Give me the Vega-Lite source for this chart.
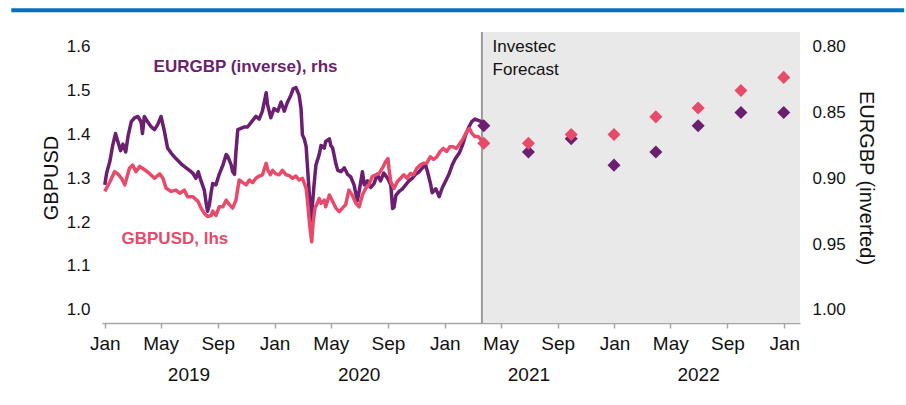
{
"$schema":"https://vega.github.io/schema/vega-lite/v6.json",
"width":698,"height":291,
"autosize":{"type":"none"},
"padding":{"left":102,"top":32,"right":106,"bottom":82},
"background":"white",
"config":{"view":{"stroke":null},"font":"Liberation Sans","axis":{"grid":false},
 "axisX":{"labelFontSize":19,"labelColor":"#111111","labelPadding":6,"labelOverlap":false,"labelFlush":false,
  "domainColor":"#A6A6A6","domainWidth":1.5,"tickColor":"#A6A6A6","tickWidth":1.5,"tickSize":5,"grid":false,"title":null,
  "tickCount":{"interval":"month","step":4},"format":"%b","formatType":"utc"}},
"datasets":{
"hist":[
{"date":"2019-01-01","series":"GBPUSD","value":1.270},{"date":"2019-01-12","series":"GBPUSD","value":1.292},{"date":"2019-01-22","series":"GBPUSD","value":1.315},{"date":"2019-01-29","series":"GBPUSD","value":1.310},{"date":"2019-02-06","series":"GBPUSD","value":1.300},{"date":"2019-02-13","series":"GBPUSD","value":1.285},{"date":"2019-02-23","series":"GBPUSD","value":1.323},{"date":"2019-03-02","series":"GBPUSD","value":1.330},{"date":"2019-03-09","series":"GBPUSD","value":1.315},{"date":"2019-03-17","series":"GBPUSD","value":1.327},{"date":"2019-03-27","series":"GBPUSD","value":1.320},{"date":"2019-04-07","series":"GBPUSD","value":1.311},{"date":"2019-04-18","series":"GBPUSD","value":1.300},{"date":"2019-04-29","series":"GBPUSD","value":1.310},{"date":"2019-05-06","series":"GBPUSD","value":1.300},{"date":"2019-05-13","series":"GBPUSD","value":1.277},{"date":"2019-05-24","series":"GBPUSD","value":1.270},{"date":"2019-06-03","series":"GBPUSD","value":1.273},{"date":"2019-06-11","series":"GBPUSD","value":1.266},{"date":"2019-06-21","series":"GBPUSD","value":1.273},{"date":"2019-06-28","series":"GBPUSD","value":1.258},{"date":"2019-07-09","series":"GBPUSD","value":1.258},{"date":"2019-07-20","series":"GBPUSD","value":1.248},{"date":"2019-07-27","series":"GBPUSD","value":1.232},{"date":"2019-08-03","series":"GBPUSD","value":1.220},{"date":"2019-08-10","series":"GBPUSD","value":1.213},{"date":"2019-08-18","series":"GBPUSD","value":1.215},{"date":"2019-08-21","series":"GBPUSD","value":1.225},{"date":"2019-08-28","series":"GBPUSD","value":1.215},{"date":"2019-09-04","series":"GBPUSD","value":1.235},{"date":"2019-09-12","series":"GBPUSD","value":1.235},{"date":"2019-09-19","series":"GBPUSD","value":1.250},{"date":"2019-09-26","series":"GBPUSD","value":1.240},{"date":"2019-10-03","series":"GBPUSD","value":1.232},{"date":"2019-10-10","series":"GBPUSD","value":1.250},{"date":"2019-10-14","series":"GBPUSD","value":1.277},{"date":"2019-10-17","series":"GBPUSD","value":1.296},{"date":"2019-10-25","series":"GBPUSD","value":1.290},{"date":"2019-11-01","series":"GBPUSD","value":1.285},{"date":"2019-11-08","series":"GBPUSD","value":1.296},{"date":"2019-11-15","series":"GBPUSD","value":1.290},{"date":"2019-11-22","series":"GBPUSD","value":1.300},{"date":"2019-11-29","series":"GBPUSD","value":1.305},{"date":"2019-12-06","series":"GBPUSD","value":1.308},{"date":"2019-12-14","series":"GBPUSD","value":1.334},{"date":"2019-12-17","series":"GBPUSD","value":1.320},{"date":"2019-12-23","series":"GBPUSD","value":1.308},{"date":"2019-12-28","series":"GBPUSD","value":1.318},{"date":"2020-01-04","series":"GBPUSD","value":1.310},{"date":"2020-01-11","series":"GBPUSD","value":1.308},{"date":"2020-01-18","series":"GBPUSD","value":1.318},{"date":"2020-01-26","series":"GBPUSD","value":1.308},{"date":"2020-02-02","series":"GBPUSD","value":1.306},{"date":"2020-02-09","series":"GBPUSD","value":1.300},{"date":"2020-02-16","series":"GBPUSD","value":1.305},{"date":"2020-02-23","series":"GBPUSD","value":1.296},{"date":"2020-03-01","series":"GBPUSD","value":1.300},{"date":"2020-03-05","series":"GBPUSD","value":1.289},{"date":"2020-03-09","series":"GBPUSD","value":1.277},{"date":"2020-03-12","series":"GBPUSD","value":1.247},{"date":"2020-03-16","series":"GBPUSD","value":1.200},{"date":"2020-03-19","series":"GBPUSD","value":1.171},{"date":"2020-03-21","series":"GBPUSD","value":1.155},{"date":"2020-03-24","series":"GBPUSD","value":1.200},{"date":"2020-03-28","series":"GBPUSD","value":1.232},{"date":"2020-04-02","series":"GBPUSD","value":1.243},{"date":"2020-04-06","series":"GBPUSD","value":1.254},{"date":"2020-04-10","series":"GBPUSD","value":1.243},{"date":"2020-04-17","series":"GBPUSD","value":1.250},{"date":"2020-04-20","series":"GBPUSD","value":1.235},{"date":"2020-04-28","series":"GBPUSD","value":1.262},{"date":"2020-05-05","series":"GBPUSD","value":1.247},{"date":"2020-05-12","series":"GBPUSD","value":1.232},{"date":"2020-05-19","series":"GBPUSD","value":1.224},{"date":"2020-05-26","series":"GBPUSD","value":1.232},{"date":"2020-06-02","series":"GBPUSD","value":1.240},{"date":"2020-06-09","series":"GBPUSD","value":1.273},{"date":"2020-06-16","series":"GBPUSD","value":1.262},{"date":"2020-06-24","series":"GBPUSD","value":1.243},{"date":"2020-07-01","series":"GBPUSD","value":1.235},{"date":"2020-07-08","series":"GBPUSD","value":1.262},{"date":"2020-07-15","series":"GBPUSD","value":1.277},{"date":"2020-07-22","series":"GBPUSD","value":1.285},{"date":"2020-07-29","series":"GBPUSD","value":1.304},{"date":"2020-08-06","series":"GBPUSD","value":1.308},{"date":"2020-08-13","series":"GBPUSD","value":1.311},{"date":"2020-08-20","series":"GBPUSD","value":1.323},{"date":"2020-08-27","series":"GBPUSD","value":1.338},{"date":"2020-09-01","series":"GBPUSD","value":1.345},{"date":"2020-09-03","series":"GBPUSD","value":1.323},{"date":"2020-09-07","series":"GBPUSD","value":1.292},{"date":"2020-09-14","series":"GBPUSD","value":1.277},{"date":"2020-09-21","series":"GBPUSD","value":1.292},{"date":"2020-09-28","series":"GBPUSD","value":1.300},{"date":"2020-10-05","series":"GBPUSD","value":1.308},{"date":"2020-10-12","series":"GBPUSD","value":1.300},{"date":"2020-10-19","series":"GBPUSD","value":1.311},{"date":"2020-10-26","series":"GBPUSD","value":1.308},{"date":"2020-11-02","series":"GBPUSD","value":1.323},{"date":"2020-11-09","series":"GBPUSD","value":1.330},{"date":"2020-11-16","series":"GBPUSD","value":1.334},{"date":"2020-11-23","series":"GBPUSD","value":1.334},{"date":"2020-12-01","series":"GBPUSD","value":1.349},{"date":"2020-12-08","series":"GBPUSD","value":1.343},{"date":"2020-12-15","series":"GBPUSD","value":1.349},{"date":"2020-12-22","series":"GBPUSD","value":1.361},{"date":"2020-12-29","series":"GBPUSD","value":1.368},{"date":"2021-01-05","series":"GBPUSD","value":1.361},{"date":"2021-01-12","series":"GBPUSD","value":1.372},{"date":"2021-01-19","series":"GBPUSD","value":1.372},{"date":"2021-01-26","series":"GBPUSD","value":1.368},{"date":"2021-02-03","series":"GBPUSD","value":1.380},{"date":"2021-02-10","series":"GBPUSD","value":1.391},{"date":"2021-02-17","series":"GBPUSD","value":1.406},{"date":"2021-02-23","series":"GBPUSD","value":1.414},{"date":"2021-02-28","series":"GBPUSD","value":1.403},{"date":"2021-03-07","series":"GBPUSD","value":1.395},{"date":"2021-03-14","series":"GBPUSD","value":1.395},{"date":"2021-03-21","series":"GBPUSD","value":1.387},{"date":"2021-03-25","series":"GBPUSD","value":1.380},
{"date":"2019-01-01","series":"EURGBP","value":0.905},{"date":"2019-01-05","series":"EURGBP","value":0.896},{"date":"2019-01-12","series":"EURGBP","value":0.887},{"date":"2019-01-18","series":"EURGBP","value":0.875},{"date":"2019-01-24","series":"EURGBP","value":0.866},{"date":"2019-01-29","series":"EURGBP","value":0.872},{"date":"2019-02-04","series":"EURGBP","value":0.879},{"date":"2019-02-09","series":"EURGBP","value":0.874},{"date":"2019-02-15","series":"EURGBP","value":0.880},{"date":"2019-02-20","series":"EURGBP","value":0.868},{"date":"2019-02-27","series":"EURGBP","value":0.857},{"date":"2019-03-06","series":"EURGBP","value":0.854},{"date":"2019-03-13","series":"EURGBP","value":0.853},{"date":"2019-03-20","series":"EURGBP","value":0.857},{"date":"2019-03-23","series":"EURGBP","value":0.866},{"date":"2019-03-27","series":"EURGBP","value":0.853},{"date":"2019-04-03","series":"EURGBP","value":0.857},{"date":"2019-04-11","series":"EURGBP","value":0.861},{"date":"2019-04-18","series":"EURGBP","value":0.863},{"date":"2019-04-25","series":"EURGBP","value":0.859},{"date":"2019-05-02","series":"EURGBP","value":0.853},{"date":"2019-05-09","series":"EURGBP","value":0.864},{"date":"2019-05-16","series":"EURGBP","value":0.877},{"date":"2019-05-24","series":"EURGBP","value":0.881},{"date":"2019-06-03","series":"EURGBP","value":0.885},{"date":"2019-06-14","series":"EURGBP","value":0.889},{"date":"2019-06-25","series":"EURGBP","value":0.892},{"date":"2019-07-02","series":"EURGBP","value":0.894},{"date":"2019-07-09","series":"EURGBP","value":0.896},{"date":"2019-07-16","series":"EURGBP","value":0.900},{"date":"2019-07-21","series":"EURGBP","value":0.895},{"date":"2019-07-27","series":"EURGBP","value":0.902},{"date":"2019-08-03","series":"EURGBP","value":0.909},{"date":"2019-08-07","series":"EURGBP","value":0.919},{"date":"2019-08-10","series":"EURGBP","value":0.925},{"date":"2019-08-14","series":"EURGBP","value":0.920},{"date":"2019-08-18","series":"EURGBP","value":0.910},{"date":"2019-08-21","series":"EURGBP","value":0.904},{"date":"2019-08-28","series":"EURGBP","value":0.905},{"date":"2019-09-04","series":"EURGBP","value":0.897},{"date":"2019-09-12","series":"EURGBP","value":0.890},{"date":"2019-09-19","series":"EURGBP","value":0.882},{"date":"2019-09-22","series":"EURGBP","value":0.883},{"date":"2019-09-30","series":"EURGBP","value":0.890},{"date":"2019-10-03","series":"EURGBP","value":0.895},{"date":"2019-10-07","series":"EURGBP","value":0.897},{"date":"2019-10-10","series":"EURGBP","value":0.880},{"date":"2019-10-14","series":"EURGBP","value":0.863},{"date":"2019-10-21","series":"EURGBP","value":0.862},{"date":"2019-10-28","series":"EURGBP","value":0.861},{"date":"2019-11-04","series":"EURGBP","value":0.861},{"date":"2019-11-15","series":"EURGBP","value":0.856},{"date":"2019-11-22","series":"EURGBP","value":0.853},{"date":"2019-11-29","series":"EURGBP","value":0.855},{"date":"2019-12-06","series":"EURGBP","value":0.849},{"date":"2019-12-14","series":"EURGBP","value":0.835},{"date":"2019-12-17","series":"EURGBP","value":0.844},{"date":"2019-12-24","series":"EURGBP","value":0.854},{"date":"2019-12-31","series":"EURGBP","value":0.847},{"date":"2020-01-08","series":"EURGBP","value":0.849},{"date":"2020-01-15","series":"EURGBP","value":0.842},{"date":"2020-01-22","series":"EURGBP","value":0.849},{"date":"2020-01-29","series":"EURGBP","value":0.842},{"date":"2020-02-05","series":"EURGBP","value":0.837},{"date":"2020-02-10","series":"EURGBP","value":0.832},{"date":"2020-02-16","series":"EURGBP","value":0.831},{"date":"2020-02-23","series":"EURGBP","value":0.837},{"date":"2020-02-27","series":"EURGBP","value":0.847},{"date":"2020-03-01","series":"EURGBP","value":0.867},{"date":"2020-03-05","series":"EURGBP","value":0.870},{"date":"2020-03-09","series":"EURGBP","value":0.876},{"date":"2020-03-12","series":"EURGBP","value":0.892},{"date":"2020-03-16","series":"EURGBP","value":0.913},{"date":"2020-03-19","series":"EURGBP","value":0.932},{"date":"2020-03-23","series":"EURGBP","value":0.918},{"date":"2020-03-26","series":"EURGBP","value":0.905},{"date":"2020-03-30","series":"EURGBP","value":0.890},{"date":"2020-04-06","series":"EURGBP","value":0.882},{"date":"2020-04-10","series":"EURGBP","value":0.875},{"date":"2020-04-17","series":"EURGBP","value":0.877},{"date":"2020-04-20","series":"EURGBP","value":0.872},{"date":"2020-04-28","series":"EURGBP","value":0.870},{"date":"2020-05-01","series":"EURGBP","value":0.875},{"date":"2020-05-05","series":"EURGBP","value":0.877},{"date":"2020-05-12","series":"EURGBP","value":0.889},{"date":"2020-05-16","series":"EURGBP","value":0.894},{"date":"2020-05-23","series":"EURGBP","value":0.895},{"date":"2020-05-30","series":"EURGBP","value":0.892},{"date":"2020-06-06","series":"EURGBP","value":0.897},{"date":"2020-06-13","series":"EURGBP","value":0.899},{"date":"2020-06-20","series":"EURGBP","value":0.905},{"date":"2020-06-27","series":"EURGBP","value":0.917},{"date":"2020-07-01","series":"EURGBP","value":0.910},{"date":"2020-07-08","series":"EURGBP","value":0.895},{"date":"2020-07-12","series":"EURGBP","value":0.905},{"date":"2020-07-19","series":"EURGBP","value":0.902},{"date":"2020-07-26","series":"EURGBP","value":0.907},{"date":"2020-08-02","series":"EURGBP","value":0.904},{"date":"2020-08-09","series":"EURGBP","value":0.897},{"date":"2020-08-16","series":"EURGBP","value":0.902},{"date":"2020-08-23","series":"EURGBP","value":0.896},{"date":"2020-08-31","series":"EURGBP","value":0.900},{"date":"2020-09-07","series":"EURGBP","value":0.905},{"date":"2020-09-11","series":"EURGBP","value":0.923},{"date":"2020-09-14","series":"EURGBP","value":0.922},{"date":"2020-09-18","series":"EURGBP","value":0.913},{"date":"2020-09-25","series":"EURGBP","value":0.910},{"date":"2020-10-02","series":"EURGBP","value":0.908},{"date":"2020-10-09","series":"EURGBP","value":0.905},{"date":"2020-10-16","series":"EURGBP","value":0.902},{"date":"2020-10-23","series":"EURGBP","value":0.900},{"date":"2020-10-30","series":"EURGBP","value":0.897},{"date":"2020-11-07","series":"EURGBP","value":0.895},{"date":"2020-11-14","series":"EURGBP","value":0.892},{"date":"2020-11-21","series":"EURGBP","value":0.890},{"date":"2020-11-25","series":"EURGBP","value":0.895},{"date":"2020-12-02","series":"EURGBP","value":0.905},{"date":"2020-12-05","series":"EURGBP","value":0.911},{"date":"2020-12-13","series":"EURGBP","value":0.908},{"date":"2020-12-20","series":"EURGBP","value":0.914},{"date":"2020-12-27","series":"EURGBP","value":0.907},{"date":"2021-01-03","series":"EURGBP","value":0.902},{"date":"2021-01-10","series":"EURGBP","value":0.897},{"date":"2021-01-17","series":"EURGBP","value":0.890},{"date":"2021-01-24","series":"EURGBP","value":0.885},{"date":"2021-02-01","series":"EURGBP","value":0.881},{"date":"2021-02-08","series":"EURGBP","value":0.875},{"date":"2021-02-15","series":"EURGBP","value":0.867},{"date":"2021-02-22","series":"EURGBP","value":0.861},{"date":"2021-02-28","series":"EURGBP","value":0.857},{"date":"2021-03-07","series":"EURGBP","value":0.855},{"date":"2021-03-14","series":"EURGBP","value":0.856},{"date":"2021-03-21","series":"EURGBP","value":0.857},{"date":"2021-03-25","series":"EURGBP","value":0.858}
],
"fc":[
{"date":"2021-03-26","series":"GBPUSD","value":1.38},{"date":"2021-06-30","series":"GBPUSD","value":1.38},{"date":"2021-09-30","series":"GBPUSD","value":1.40},{"date":"2021-12-31","series":"GBPUSD","value":1.40},{"date":"2022-03-31","series":"GBPUSD","value":1.44},{"date":"2022-06-30","series":"GBPUSD","value":1.46},{"date":"2022-09-30","series":"GBPUSD","value":1.50},{"date":"2022-12-31","series":"GBPUSD","value":1.53},
{"date":"2021-03-26","series":"EURGBP","value":0.86},{"date":"2021-06-30","series":"EURGBP","value":0.88},{"date":"2021-09-30","series":"EURGBP","value":0.87},{"date":"2021-12-31","series":"EURGBP","value":0.89},{"date":"2022-03-31","series":"EURGBP","value":0.88},{"date":"2022-06-30","series":"EURGBP","value":0.86},{"date":"2022-09-30","series":"EURGBP","value":0.85},{"date":"2022-12-31","series":"EURGBP","value":0.85}
],
"years":[{"date":"2019-07-01","label":"2019"},{"date":"2020-07-01","label":"2020"},{"date":"2021-07-01","label":"2021"},{"date":"2022-07-01","label":"2022"}]
},
"layer":[
{"data":{"values":[{}]},
 "mark":{"type":"rect","color":"#E9E9E9"},
 "encoding":{
  "x":{"datum":{"year":2021,"month":3,"date":22,"utc":true},"type":"temporal",
   "scale":{"type":"utc","domain":[{"year":2018,"month":12,"date":26,"utc":true},{"year":2023,"month":2,"date":4,"utc":true}]}},
  "x2":{"datum":{"year":2023,"month":2,"date":4,"utc":true}}
 }},
{"data":{"values":[{}]},
 "mark":{"type":"rule","color":"#9A9A9A","strokeWidth":2},
 "encoding":{"x":{"datum":{"year":2021,"month":3,"date":22,"utc":true},"type":"temporal"}}},
{"data":{"name":"hist"},
 "transform":[{"filter":"datum.series == 'EURGBP'"}],
 "mark":{"type":"line","color":"#6B1F70","strokeWidth":3.5,"strokeJoin":"round"},
 "encoding":{
  "x":{"field":"date","type":"temporal"},
  "y":{"field":"value","type":"quantitative","scale":{"domain":[0.7888,1.01],"reverse":true,"nice":false,"zero":false},
   "axis":{"orient":"right","values":[0.8,0.85,0.9,0.95,1.0],"format":".2f","ticks":false,"domain":false,"labelPadding":12,"labelFontSize":17,"labelColor":"#111111",
    "title":"EURGBP (inverted)","titleFontSize":20,"titleFontWeight":"normal","titleColor":"#111111","titlePadding":10,"titleAngle":90}}
 }},
{"data":{"name":"fc"},
 "transform":[{"filter":"datum.series == 'EURGBP'"}],
 "mark":{"type":"point","shape":"diamond","filled":true,"size":170,"color":"#6B1F70","opacity":1},
 "encoding":{
  "x":{"field":"date","type":"temporal"},
  "y":{"field":"value","type":"quantitative","scale":{"domain":[0.7888,1.01],"reverse":true,"nice":false,"zero":false},"axis":null}
 }},
{"data":{"name":"hist"},
 "transform":[{"filter":"datum.series == 'GBPUSD'"}],
 "mark":{"type":"line","color":"#E84A6A","strokeWidth":3.5,"strokeJoin":"round"},
 "encoding":{
  "x":{"field":"date","type":"temporal"},
  "y":{"field":"value","type":"quantitative","scale":{"domain":[0.97,1.6335],"nice":false,"zero":false},
   "axis":{"orient":"left","values":[1.0,1.1,1.2,1.3,1.4,1.5,1.6],"format":".1f","ticks":false,"domain":false,"labelPadding":12,"labelFontSize":17,"labelColor":"#111111",
    "title":"GBPUSD","titleFontSize":20,"titleFontWeight":"normal","titleColor":"#111111","titlePadding":5}}
 }},
{"data":{"name":"fc"},
 "transform":[{"filter":"datum.series == 'GBPUSD'"}],
 "mark":{"type":"point","shape":"diamond","filled":true,"size":170,"color":"#E84A6A","opacity":1},
 "encoding":{
  "x":{"field":"date","type":"temporal"},
  "y":{"field":"value","type":"quantitative","scale":{"domain":[0.97,1.6335],"nice":false,"zero":false},"axis":null}
 }},
{"data":{"name":"years"},
 "mark":{"type":"text","align":"center","baseline":"middle","fontSize":19,"color":"#111111"},
 "encoding":{
  "x":{"field":"date","type":"temporal"},
  "text":{"field":"label","type":"nominal"},
  "y":{"datum":0.8515,"type":"quantitative","scale":{"domain":[0.97,1.6335],"nice":false,"zero":false},"axis":null}}},
{"data":{"values":[{}]},
 "mark":{"type":"text","text":"EURGBP (inverse), rhs","align":"left","baseline":"middle","fontSize":17,"fontWeight":"bold","color":"#6B1F70"},
 "encoding":{
  "x":{"datum":{"year":2019,"month":4,"date":16,"utc":true},"type":"temporal"},
  "y":{"datum":1.5544,"type":"quantitative","scale":{"domain":[0.97,1.6335],"nice":false,"zero":false},"axis":null}}},
{"data":{"values":[{}]},
 "mark":{"type":"text","text":"GBPUSD, lhs","align":"left","baseline":"middle","fontSize":17,"fontWeight":"bold","color":"#E84A6A"},
 "encoding":{
  "x":{"datum":{"year":2019,"month":2,"date":6,"utc":true},"type":"temporal"},
  "y":{"datum":1.1615,"type":"quantitative","scale":{"domain":[0.97,1.6335],"nice":false,"zero":false},"axis":null}}},
{"data":{"values":[{}]},
 "mark":{"type":"text","text":"Investec","align":"left","baseline":"middle","fontSize":17,"color":"#111111"},
 "encoding":{
  "x":{"datum":{"year":2021,"month":4,"date":14,"utc":true},"type":"temporal"},
  "y":{"datum":1.5982,"type":"quantitative","scale":{"domain":[0.97,1.6335],"nice":false,"zero":false},"axis":null}}},
{"data":{"values":[{}]},
 "mark":{"type":"text","text":"Forecast","align":"left","baseline":"middle","fontSize":17,"color":"#111111"},
 "encoding":{
  "x":{"datum":{"year":2021,"month":4,"date":14,"utc":true},"type":"temporal"},
  "y":{"datum":1.5469,"type":"quantitative","scale":{"domain":[0.97,1.6335],"nice":false,"zero":false},"axis":null}}},
{"data":{"values":[{}]},
 "mark":{"type":"rule","color":"#0070C0","strokeWidth":4},
 "encoding":{
  "x":{"datum":{"year":2018,"month":6,"date":14,"utc":true},"type":"temporal"},
  "x2":{"datum":{"year":2023,"month":9,"date":16,"utc":true}},
  "y":{"datum":1.683,"type":"quantitative","scale":{"domain":[0.97,1.6335],"nice":false,"zero":false},"axis":null}}}
],
"resolve":{"scale":{"y":"independent"}}
}
